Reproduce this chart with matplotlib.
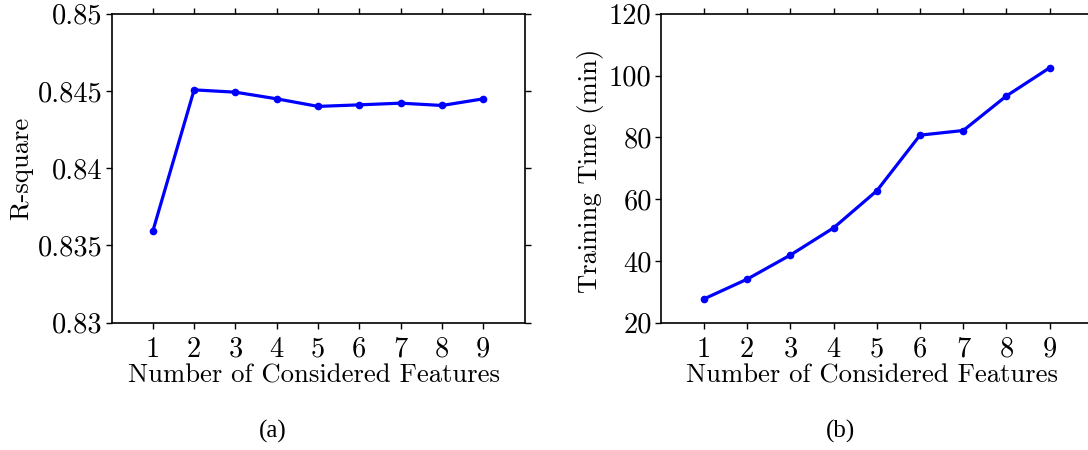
import matplotlib
matplotlib.use("Agg")
import matplotlib.pyplot as plt

# Data
features = [1, 2, 3, 4, 5, 6, 7, 8, 9]
r_square = [0.83592, 0.84507, 0.84492, 0.84449, 0.84400, 0.84410, 0.84421, 0.84406, 0.84449]
train_time = [27.7, 34.1, 41.9, 50.7, 62.7, 80.7, 82.2, 93.4, 102.5]

r_ticks = [0.83, 0.835, 0.84, 0.845, 0.85]
r_tick_labels = ["0.83", "0.835", "0.84", "0.845", "0.85"]
t_ticks = [20, 40, 60, 80, 100, 120]
t_tick_labels = ["20", "40", "60", "80", "100", "120"]

xlabel = "Number of Considered Features"
ylabels = ["R-square", "Training Time (min)"]
captions = ["(a)", "(b)"]

plt.rcParams["font.family"] = "cmr10"
plt.rcParams["axes.formatter.use_mathtext"] = True

fig = plt.figure(figsize=(10.88, 4.5), dpi=100)

W, H = 1088.0, 450.0
axes_px = [(111.5, 524.6), (660.8, 1092.9)]
top_px, bottom_px = 13.7, 322.7

series = [r_square, train_time]
yticks = [r_ticks, t_ticks]
yticklabels = [r_tick_labels, t_tick_labels]
ylims = [(0.83, 0.85), (20, 120)]
ylabel_x = [-0.2196, -0.1618]
ylabel_y = [0.5, 0.49]
caption_x = [272.6, 840.9]

for i in range(2):
    l, r = axes_px[i]
    ax = fig.add_axes([l / W, 1 - bottom_px / H, (r - l) / W, (bottom_px - top_px) / H])
    ax.plot(features, series[i], color="#0000ff", lw=2.3, marker="o", ms=4.5,
            mew=1, clip_on=False)
    ax.set_xlim(0, 10)
    ax.set_ylim(*ylims[i])
    ax.set_xticks(features)
    ax.set_xticklabels([str(f) for f in features])
    ax.set_yticks(yticks[i])
    ax.set_yticklabels(yticklabels[i])
    ax.tick_params(direction="out", length=4, width=1, top=True, right=True,
                   labelsize=20.5)
    ax.tick_params(axis="x", pad=6)
    ax.tick_params(axis="y", pad=2.5)
    for s in ax.spines.values():
        s.set_linewidth(1.2)
    ax.set_xlabel(xlabel, fontsize=19.2, va="top")
    ax.xaxis.set_label_coords(0.489, -0.132)
    ax.set_ylabel(ylabels[i], fontsize=19.2, va="center")
    ax.yaxis.set_label_coords(ylabel_x[i], ylabel_y[i])
    fig.text(caption_x[i] / W, 1 - 431 / H, captions[i], ha="center", va="center",
             fontsize=18, family="Liberation Serif")

fig.savefig("out.png", dpi=100)
